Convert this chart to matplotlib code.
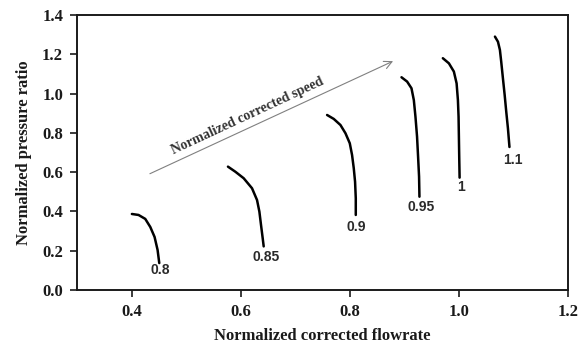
import matplotlib.pyplot as plt

# speed lines
speeds = ["0.8", "0.85", "0.9", "0.95", "1", "1.1"]
flow = [
    [0.4006, 0.4128, 0.4251, 0.4343, 0.4422, 0.4477, 0.4508],
    [0.5767, 0.5903, 0.6055, 0.6208, 0.6300, 0.6343, 0.6373, 0.6404, 0.6422],
    [0.7584, 0.7706, 0.7829, 0.7921, 0.8000, 0.8042, 0.8073, 0.8097, 0.8110, 0.8110],
    [0.8948, 0.9051, 0.9131, 0.9174, 0.9204, 0.9233, 0.9252, 0.9270, 0.9277],
    [0.9706, 0.9817, 0.9908, 0.9958, 0.9982, 0.9994, 1.0000, 1.0006, 1.0013],
    [1.0661, 1.0716, 1.0752, 1.0776, 1.0807, 1.0839, 1.0868, 1.0899, 1.0927],
]
pressure = [
    [0.387, 0.382, 0.362, 0.321, 0.270, 0.204, 0.137],
    [0.628, 0.602, 0.569, 0.518, 0.458, 0.399, 0.331, 0.263, 0.222],
    [0.891, 0.871, 0.840, 0.798, 0.747, 0.687, 0.620, 0.551, 0.467, 0.382],
    [1.083, 1.061, 1.027, 0.967, 0.882, 0.781, 0.679, 0.577, 0.475],
    [1.180, 1.154, 1.112, 1.052, 0.967, 0.882, 0.781, 0.679, 0.572],
    [1.290, 1.264, 1.222, 1.162, 1.078, 0.993, 0.908, 0.823, 0.728],
]
label_x = [0.453, 0.646, 0.811, 0.930, 1.004, 1.099]
label_y = [0.102, 0.168, 0.322, 0.424, 0.525, 0.662]

serif = "Liberation Serif"
sans = "Liberation Sans"
ink = "#1a1a1a"

fig = plt.figure(figsize=(5.85, 3.49), dpi=100)
ax = fig.add_axes([77/585, 1 - 290/349, (568-77)/585, (290-15)/349])

for fx, py in zip(flow, pressure):
    ax.plot(fx, py, color="black", lw=1.8, solid_capstyle="round",
            solid_joinstyle="round")

for s, lx, ly in zip(speeds, label_x, label_y):
    ax.text(lx, ly, s, ha="center", va="center", fontsize=10,
            family=sans, fontweight="bold", color="#2a2a2a")

# direction of increasing speed
ax.annotate("", xy=(0.884, 1.171), xytext=(0.429, 0.586),
            arrowprops=dict(arrowstyle="->", color="#808080", lw=0.8,
                            mutation_scale=14))
ax.text(0.613, 0.886, "Normalized corrected speed", rotation=25,
        ha="center", va="center", fontsize=10, family=serif,
        fontweight="bold", color="#333333", rotation_mode="anchor")

ax.set_xlim(0.3, 1.2)
ax.set_ylim(0, 1.4)
ax.set_xticks([0.4, 0.6, 0.8, 1.0, 1.2])
ax.set_yticks([0, 0.2, 0.4, 0.6, 0.8, 1.0, 1.2, 1.4])
ax.set_xticklabels(["0.4", "0.6", "0.8", "1.0", "1.2"])
ax.set_yticklabels(["0.0", "0.2", "0.4", "0.6", "0.8", "1.0", "1.2", "1.4"])
ax.tick_params(direction="out", length=5, width=1.2, top=False, right=False,
               pad=5, colors=ink)
for lab in ax.get_xticklabels() + ax.get_yticklabels():
    lab.set_family(serif)
    lab.set_fontweight("bold")
    lab.set_fontsize(12)
for sp in ax.spines.values():
    sp.set_linewidth(1.4)
    sp.set_color(ink)

ax.set_xlabel("Normalized corrected flowrate", family=serif, fontweight="bold",
              fontsize=12, color=ink, labelpad=6)
ax.set_ylabel("Normalized pressure ratio", family=serif, fontweight="bold",
              fontsize=12, color=ink, labelpad=7)

fig.savefig("out.png", dpi=100)
